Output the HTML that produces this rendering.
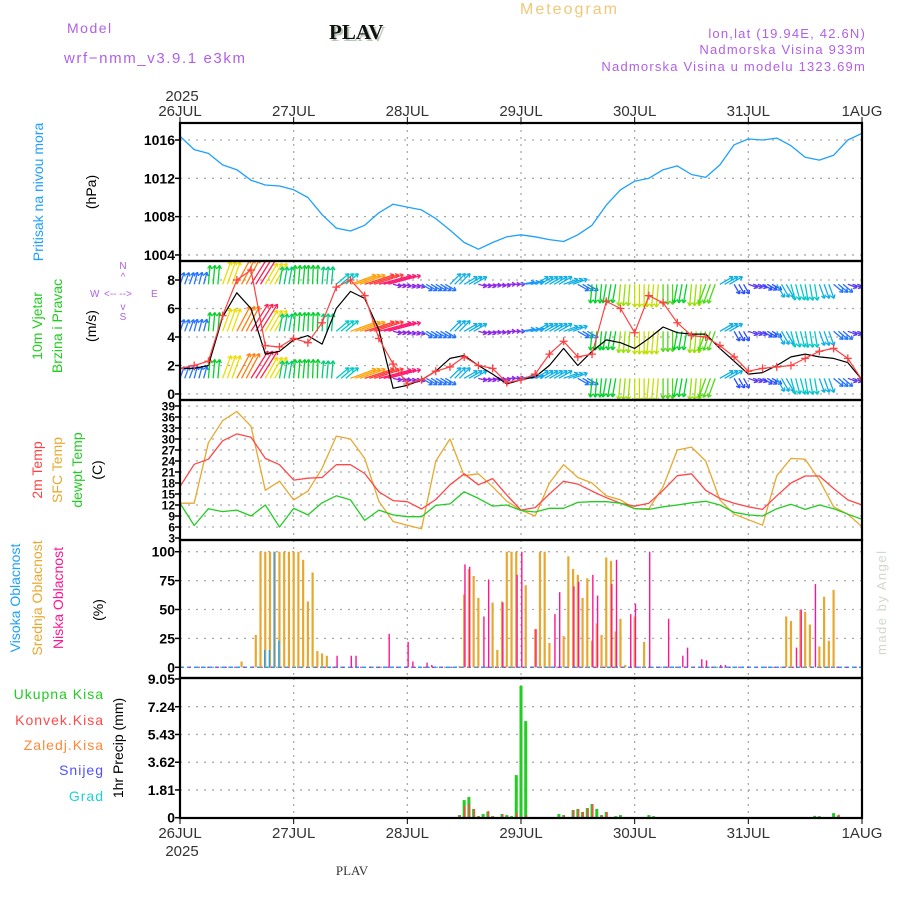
<!DOCTYPE html>
<html><head><meta charset="utf-8"><style>
html,body{margin:0;padding:0;background:#fff;}
svg{display:block;font-family:"Liberation Sans",sans-serif;}
</style></head><body>
<svg id="chart" width="900" height="900" viewBox="0 0 900 900" xmlns="http://www.w3.org/2000/svg">
<g id="header">
<text x="67" y="33" font-size="14" fill="#b060e8" letter-spacing="1.5">Model</text>
<text x="64" y="63" font-size="15" fill="#b060e8" letter-spacing="1.6">wrf−nmm_v3.9.1  e3km</text>
<text x="331" y="41" font-size="21" font-weight="bold" font-family="Liberation Serif,serif" fill="#b8c8b8">PLAV</text>
<text x="329" y="39" font-size="21" font-weight="bold" font-family="Liberation Serif,serif" fill="#111">PLAV</text>
<text x="520" y="14" font-size="16" fill="#f0c878" letter-spacing="2">Meteogram</text>
<text x="866" y="38" font-size="13" fill="#b060e8" text-anchor="end" letter-spacing="1.2">lon,lat (19.94E, 42.6N)</text>
<text x="866" y="54" font-size="13" fill="#b060e8" text-anchor="end" letter-spacing="1.2">Nadmorska Visina 933m</text>
<text x="866" y="71" font-size="13" fill="#b060e8" text-anchor="end" letter-spacing="1.2">Nadmorska Visina u modelu 1323.69m</text>
<text x="182" y="101" font-size="15" fill="#333" text-anchor="middle">2025</text>
<text x="352" y="875" font-size="13" font-family="Liberation Serif,serif" fill="#333" text-anchor="middle">PLAV</text>
<text x="0" y="0" font-size="13" fill="#d0d8d0" letter-spacing="1.5" transform="translate(886,655) rotate(-90)">made by Angel</text>
<text x="182" y="856" font-size="15" fill="#333" text-anchor="middle">2025</text>
</g>
<g font-size="14">
<text transform="translate(43,192) rotate(-90)" text-anchor="middle" fill="#1ea0ff">Pritisak na nivou mora</text>
<text transform="translate(96,192) rotate(-90)" text-anchor="middle" fill="#000">(hPa)</text>
<text transform="translate(42,326) rotate(-90)" text-anchor="middle" fill="#22cc22">10m Vjetar</text>
<text transform="translate(62,326) rotate(-90)" text-anchor="middle" fill="#22cc22">Brzina i Pravac</text>
<text transform="translate(96,326) rotate(-90)" text-anchor="middle" fill="#000">(m/s)</text>
<g fill="#b060e8" font-size="10">
<text x="123" y="269" text-anchor="middle">N</text><text x="123" y="280" text-anchor="middle">^</text>
<text x="90" y="297">W</text><text x="104" y="297">&lt;-- --&gt;</text><text x="151" y="297">E</text>
<text x="123" y="310" text-anchor="middle">v</text><text x="123" y="320" text-anchor="middle">S</text>
</g>
<text transform="translate(42,470) rotate(-90)" text-anchor="middle" fill="#ff4040">2m Temp</text>
<text transform="translate(62,470) rotate(-90)" text-anchor="middle" fill="#e8a830">SFC Temp</text>
<text transform="translate(82,470) rotate(-90)" text-anchor="middle" fill="#22cc22">dewpt Temp</text>
<text transform="translate(102,470) rotate(-90)" text-anchor="middle" fill="#000">(C)</text>
<text transform="translate(20,598) rotate(-90)" text-anchor="middle" fill="#1ea0ff">Visoka Oblacnost</text>
<text transform="translate(42,598) rotate(-90)" text-anchor="middle" fill="#e8a830">Srednja Oblacnost</text>
<text transform="translate(63,598) rotate(-90)" text-anchor="middle" fill="#ff1493">Niska Oblacnost</text>
<text transform="translate(103,610) rotate(-90)" text-anchor="middle" fill="#000">(%)</text>
<text x="104" y="699" text-anchor="end" fill="#22cc22" letter-spacing="1">Ukupna  Kisa</text>
<text x="104" y="725" text-anchor="end" fill="#ff4848" letter-spacing="1">Konvek.Kisa</text>
<text x="104" y="750" text-anchor="end" fill="#ff8838" letter-spacing="1">Zaledj.Kisa</text>
<text x="104" y="775" text-anchor="end" fill="#5050ff" letter-spacing="1">Snijeg</text>
<text x="104" y="801" text-anchor="end" fill="#20d0d0" letter-spacing="1">Grad</text>
<text transform="translate(123,748) rotate(-90)" text-anchor="middle" fill="#000">1hr Precip (mm)</text>
</g>
</svg>
<script>
const pressure=[1016.4,1015,1014.6,1013.4,1012.9,1011.8,1011.3,1011.2,1010.8,1010,1008.2,1006.8,1006.5,1007.1,1008.4,1009.3,1009,1008.7,1007.8,1006.6,1005.3,1004.6,1005.3,1005.9,1006.1,1005.9,1005.6,1005.4,1006.1,1007.1,1009.2,1010.8,1011.7,1012,1012.9,1013.3,1012.4,1012.1,1013.4,1015.5,1016.1,1016,1016.2,1015.4,1014.2,1013.9,1014.4,1016,1016.7];
const windSpeed=[1.8,1.8,2.0,5.4,7.1,6.0,2.8,3.0,3.8,4.1,3.5,6,7.2,6.7,4.5,0.4,0.6,1.0,1.6,2.5,2.7,2.0,1.4,0.7,1.0,1.2,2.0,3.2,2.0,3.0,3.8,3.6,3.2,3.9,4.7,4.3,4.2,4.2,3.2,2.3,1.4,1.5,2.0,2.6,2.8,2.6,2.5,2.2,1.0];
const windGust=[1.8,2.0,2.3,5.5,8.0,8.7,3.4,3.3,3.9,3.6,5.0,7.5,8.0,6.9,3.9,2.1,0.7,1.0,1.6,1.9,2.6,2.0,1.8,0.8,1.0,1.4,2.8,3.7,2.6,2.8,6.5,6.0,4.3,6.9,6.4,5.0,4.1,4.0,3.4,2.6,1.6,1.8,1.9,2.0,2.5,3.0,3.2,2.5,1.0];
const windDir=[70,75,85,70,62,58,60,80,85,88,85,40,20,18,15,-15,-20,-30,-30,45,30,-15,-10,0,10,30,30,20,-30,-95,-100,-95,-90,-95,-90,-100,-95,-110,30,-60,-20,-30,-60,-75,-80,-70,-40,-20,-10];
const arrowSpeed=[2.5,2.5,5,7,8.5,10,7,4.5,5,5,4.5,4,8,9.5,10.5,1,1,2.5,2.5,3.5,3.5,1,1,1,3,3.5,3.5,3.5,2.5,5,5,6,6.5,6.5,5.5,5,6,5.5,3.5,2,1.5,2,3.5,4,4,3.5,2.5,1.5,1];
const temp2m=[17,23.1,24.5,29.5,31.4,30.5,24.7,23,18.8,19.3,19.5,23,23,20.6,15.6,13.2,12.9,10.9,13.5,17.5,20.5,17.5,19.2,14.7,10.6,11.3,15,18.5,17.7,15.8,14,12.5,11.7,12.5,16,20,20.5,16,13.8,12.5,11.5,10.8,14.5,18,19.9,19.9,16.5,13.4,12];
const tempSfc=[12.5,12.5,29,35,37.5,33.5,16,18.5,13.4,15.8,22,30.8,30,24.7,13,7.5,6.5,5.5,24,30,20,20.5,17,13,10.6,9,18,23,19.5,18,14.5,13.4,11,11,17,27,27.8,24,13.4,9.5,8,6.5,20,24.7,24.5,18.8,11.5,9.5,6.1];
const tempDew=[12.5,6.4,11,10.2,10.6,9,12,6,11.1,9.3,12.6,14.5,13.4,7.8,10.6,9.3,8.8,8.8,11.9,12.3,15.6,13.8,11.7,12,10.5,10.1,11.1,11.1,12.7,12.9,12.9,12.5,11,10.8,11.5,12,12.6,13,12,10,9.3,9,11,12.2,10.8,12,11,9.5,8.1];
const midCloudHours=[13,16,17,18,19,20,21,22,23,24,25,26,27,28,29,30,31,59,60,61,62,63,66,67,68,69,70,71,73,75,76,77,78,81,82,83,84,85,86,87,88,89,90,91,92,93,94,96,98,128,129,131,132,133,135,136,137,138];
const midCloudVals=[5,28,100,100,100,100,100,100,100,100,100,93,57,82,14,12,10,1,63,85,79,60,56,15,57,100,100,100,71,33,100,100,21,27,96,85,80,60,77,23,38,28,95,92,31,42,2,44,22,44,40,50,48,37,18,61,23,67];
const lowCloudHours=[33,36,37,44,48,49,52,53,60,61,64,65,68,71,72,75,79,80,83,84,87,88,91,92,95,96,99,103,106,107,110,111,114,115,130,131,134];
const lowCloudVals=[10,10,10,29,22,5,4,2,89,87,44,76,56,80,100,33,46,65,70,74,80,62,72,93,46,55,100,42,10,17,7,6,2,2,17,50,72];
const highCloudHours=[18,19,20,21];
const highCloudVals=[15,15,100,23];
const rainHours=[59,60,61,62,63,64,65,66,68,69,70,71,72,73,80,81,83,84,85,86,87,88,89,90,92,93,99,100,134,135,138,139];
const rainVals=[0.17,1.15,1.35,0.57,0.1,0.24,0.4,0.1,0.24,0.17,0.1,2.78,8.6,6.3,0.24,0.17,0.5,0.57,0.37,0.63,0.89,0.57,0.17,0.37,0.1,0.17,0.17,0.1,0.12,0.1,0.3,0.15];
const convHours=[59,60,61,62,63,65,66,68,71,73,75,79,81,82,83,84,85,86,87,89,90,139];
const convVals=[0.17,0.76,0.9,0.57,0.1,0.43,0.1,0.24,0.33,0.17,0.05,0.05,0.17,0.05,0.5,0.57,0.37,0.63,0.89,0.17,0.37,0.2];
const dayLabels=["26JUL","27JUL","28JUL","29JUL","30JUL","31JUL","1AUG"];
const pressureTicks=[1004,1008,1012,1016];
const windTicks=[0,2,4,6,8];
const tempTicks=[3,6,9,12,15,18,21,24,27,30,33,36,39];
const cloudTicks=[0,25,50,75,100];
const precipTicks=[0,1.81,3.62,5.43,7.24,9.05];

const NS="http://www.w3.org/2000/svg";
const svg=document.getElementById('chart');
const X0=180,X1=862,HOURS=144;
const X=h=>X0+h*(X1-X0)/HOURS;
const yP=v=>140+(1016-v)*9.58;
const yW=v=>394-v*14.25;
const yT=v=>538-(v-3)*3.667;
const yC=v=>667.3-v*1.156;
const yR=v=>817.7-v*15.33;
const panels=[[123,261,yP,pressureTicks,'pressure'],[261,400,yW,windTicks,'wind'],[400,540,yT,tempTicks,'temp'],[540,678,yC,cloudTicks,'cloud'],[678,818,yR,precipTicks,'precip']];
function mk(tag,attrs,parent){const e=document.createElementNS(NS,tag);for(const k in attrs)e.setAttribute(k,attrs[k]);(parent||svg).appendChild(e);return e;}
function fmt(v){return (Math.round(v*100)/100).toString();}

const grid=mk('g',{});


panels.forEach(p=>{
  const [top,bot,fy,ticks,name]=p;
  const fs=name==='temp'?12:14;
  ticks.forEach(t=>{
    const y=fy(t);
    if(y>top+2&&y<bot-2){mk('line',{x1:X0,x2:X1,y1:y,y2:y,stroke:'#aaa','stroke-width':1.3,'stroke-dasharray':'2,6'},grid);}
    mk('line',{x1:X0-5,x2:X0,y1:y,y2:y,stroke:'#000','stroke-width':1.5},grid);
    const tx=mk('text',{x:X0-5,y:y+fs*0.36,'font-size':fs,'font-weight':'bold','text-anchor':'end',fill:'#000'},grid);
    tx.textContent=fmt(t);
    
    
  });
  for(let d=1;d<6;d++){mk('line',{x1:X(d*24),x2:X(d*24),y1:top,y2:bot,stroke:'#aaa','stroke-width':1.3,'stroke-dasharray':'2,5'},grid);}
});
dayLabels.forEach((d,i)=>{
  const x=X(i*24);
  mk('line',{x1:x,x2:x,y1:117,y2:123,stroke:'#000','stroke-width':1},grid);
  mk('line',{x1:x,x2:x,y1:818,y2:824,stroke:'#000','stroke-width':1},grid);
  const t1=mk('text',{x:x,y:116,'font-size':15,'text-anchor':'middle',fill:'#333'},grid);t1.textContent=d;
  
  
  const t2=mk('text',{x:x,y:838,'font-size':15,'text-anchor':'middle',fill:'#333'},grid);t2.textContent=d;
  
  
});

function line(arr,fy,color,w,name,parent){
  const pts=arr.map((v,i)=>X(i*3).toFixed(1)+','+fy(v).toFixed(1)).join(' ');
  const e=mk('polyline',{points:pts,fill:'none',stroke:color,'stroke-width':w,'stroke-linejoin':'round'},parent);
  
  
  return e;
}
const defs=mk('defs',{});
panels.forEach((p,i)=>{const c=mk('clipPath',{id:'clip'+i},defs);mk('rect',{x:X0,y:p[0],width:X1-X0,height:p[1]-p[0]},c);});

const gP=mk('g',{'clip-path':'url(#clip0)'});
line(pressure,yP,'#1ea0ff',1.3,'pressure-line',gP);

const gW=mk('g',{'clip-path':'url(#clip1)'});


function spdColor(s){
  const stops=[[1,[140,40,230]],[2,[40,80,255]],[3,[30,150,255]],[4,[0,200,200]],[5,[0,210,40]],[6,[150,225,0]],[7,[240,220,0]],[8,[255,160,0]],[9,[255,90,30]],[10,[255,30,80]],[11,[255,20,150]]];
  if(s<=1)return 'rgb(140,40,230)';if(s>=11)return 'rgb(255,20,150)';
  for(let i=0;i<stops.length-1;i++){if(s>=stops[i][0]&&s<=stops[i+1][0]){const f=(s-stops[i][0]);const a=stops[i][1],b=stops[i+1][1];return 'rgb('+a.map((v,k)=>Math.round(v+(b[k]-v)*f)).join(',')+')';}}
}
const rowBases=[7.7,4.4,1.1];
rowBases.forEach(base=>{
  windDir.forEach((d,i)=>{
    for(let k=0;k<3;k++){
      const h=i*3+k; if(h>144)break;
      const x=X(h),y=yW(base);
      const len=6+arrowSpeed[i]*2.6;
      const a=d*Math.PI/180;
      const x2=x+len*Math.cos(a),y2=y-len*Math.sin(a);
      const col=spdColor(arrowSpeed[i]);
      const g=mk('g',{stroke:col,'stroke-width':1.3,fill:'none'},gW);
      
      
      mk('line',{x1:x,y1:y,x2:x2,y2:y2},g);
      const hl=4;
      [a+Math.PI*0.82,a-Math.PI*0.82].forEach(b=>mk('line',{x1:x2,y1:y2,x2:x2+hl*Math.cos(b),y2:y2-hl*Math.sin(b)},g));
    }
  });
});
line(windSpeed,yW,'#000',1.2,'wind-speed-line',gW);
line(windGust,yW,'#ff4040',1.2,'wind-gust-line',gW);
windGust.forEach((v,i)=>{
  const x=X(i*3),y=yW(v);
  const m=mk('path',{d:`M${x-4},${y}h8M${x},${y-4}v8`,stroke:'#ff4040','stroke-width':1.3},gW);
  
  
});

const gT=mk('g',{'clip-path':'url(#clip2)'});
line(tempSfc,yT,'#e8a830',1.3,'sfc-temp-line',gT);
line(temp2m,yT,'#ff4848',1.3,'temp-2m-line',gT);
line(tempDew,yT,'#22cc22',1.3,'dewpoint-line',gT);

const gC=mk('g',{});
mk('line',{x1:X0,x2:X1,y1:yC(0),y2:yC(0),stroke:'#1ea0ff','stroke-width':1.5,'stroke-dasharray':'4,3'},gC);
mk('line',{x1:X0,x2:X1,y1:yC(0),y2:yC(0),stroke:'#ff1493','stroke-width':1,'stroke-dasharray':'2,7'},gC);
function bars(hours,vals,fy,color,w,off,name,parent){
  hours.forEach((h,i)=>{
    const y=fy(vals[i]),y0=fy(0);
    const r=mk('rect',{x:X(h)+off-w/2,y:y,width:w,height:Math.max(0.5,y0-y),fill:color},parent);
    
    
  });
}
bars(midCloudHours,midCloudVals,yC,'#e8a830',2.2,0,'mid-cloud-bar',gC);
bars(lowCloudHours,lowCloudVals,yC,'#ff1493',1.4,0.8,'low-cloud-bar',gC);
bars(highCloudHours,highCloudVals,yC,'#1ea0ff',1.4,-0.6,'high-cloud-bar',gC);

const gR=mk('g',{});
bars(rainHours,rainVals,yR,'#22cc22',3,0,'total-rain-bar',gR);
bars(convHours,convVals,yR,'#ff4848',1.6,0.6,'convective-rain-bar',gR);

panels.forEach((p,i)=>{
  const r=mk('rect',{x:X0,y:p[0],width:X1-X0,height:p[1]-p[0],fill:'none',stroke:'#000','stroke-width':2.2});
  
  
});
</script>
</body></html>
